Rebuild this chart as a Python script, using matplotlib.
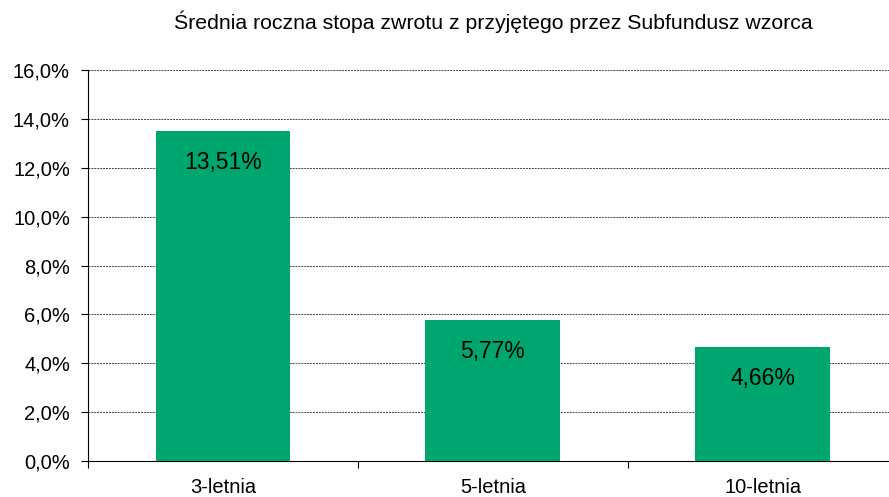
import numpy as np
import matplotlib.pyplot as plt
from matplotlib.ticker import FixedLocator, NullFormatter

plt.rcParams['font.family'] = ['Liberation Sans', 'DejaVu Sans']

# --- datos ---
categorias = ['3-letnia', '5-letnia', '10-letnia']
stopy = [13.51, 5.77, 4.66]
etiquetas = ['13,51%', '5,77%', '4,66%']
ticks_y = [0, 2, 4, 6, 8, 10, 12, 14, 16]
titulo = 'Średnia roczna stopa zwrotu z przyjętego przez Subfundusz wzorca'

fig = plt.figure(figsize=(8.89, 4.97), dpi=100)
ax = fig.add_axes([0.099, 0.0724, 0.911, 0.7867])

x = np.arange(len(categorias)) + 0.5
bars = ax.bar(x, stopy, width=0.5, color='#00A670', zorder=3)

# etiquetas de valor dentro de la barra, cerca del borde superior
for b, txt in zip(bars, etiquetas):
    ax.text(b.get_x() + b.get_width() / 2, b.get_height() - 1.28, txt,
            ha='center', va='center', fontsize=16.5, color='black', zorder=4)

ax.set_xlim(0, 3)
ax.set_ylim(0, 16)
ax.set_yticks(ticks_y)
ax.set_yticklabels([f'{v:.1f}%'.replace('.', ',') for v in ticks_y], fontsize=14.5)
ax.yaxis.grid(True, linestyle=(0, (2, 1)), linewidth=0.7, color='#444444', zorder=1)

# etiquetas de categoría sin marcas, marcas en los bordes
ax.xaxis.set_major_locator(FixedLocator(x))
ax.set_xticklabels(categorias, fontsize=14.5)
ax.tick_params(axis='x', which='major', length=0, pad=12.5)
ax.xaxis.set_minor_locator(FixedLocator([0, 1, 2, 3]))
ax.xaxis.set_minor_formatter(NullFormatter())
ax.tick_params(axis='x', which='minor', length=5, width=0.8)
ax.tick_params(axis='y', length=5, width=0.8, pad=8)

for s in ['top', 'right']:
    ax.spines[s].set_visible(False)
ax.spines['left'].set_linewidth(0.8)
ax.spines['bottom'].set_linewidth(0.8)

fig.text(493 / 889, 1 - 22 / 497, titulo, ha='center', va='center', fontsize=15.3)

fig.savefig('out.png', dpi=100)
plt.close()
